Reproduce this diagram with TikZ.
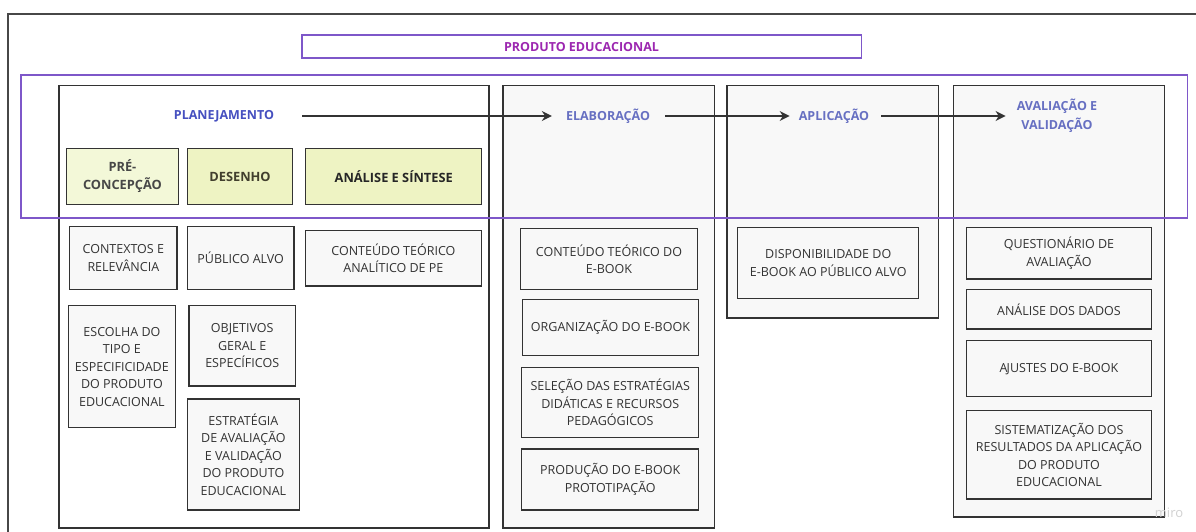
\documentclass[tikz,border=0pt]{standalone}
\usepackage{fontspec}
\setmainfont{Open Sans}
\usepackage{xcolor}
\usetikzlibrary{arrows.meta,positioning}
\definecolor{framegray}{HTML}{333333}
\definecolor{bandpurple}{HTML}{7E57C9}
\definecolor{titlepurple}{HTML}{9C27B0}
\definecolor{planblue}{HTML}{4650C0}
\definecolor{stageblue}{HTML}{6770C2}
\definecolor{colbg}{HTML}{F8F8F8}
\definecolor{prebg}{HTML}{F3F8D8}
\definecolor{phasebg}{HTML}{EEF3C3}

\begin{document}
\begin{tikzpicture}[x=1pt,y=-1pt,
		col/.style={draw=framegray,line width=1.5pt,fill=colbg,anchor=north west,inner sep=0pt},
		item/.style={draw=framegray,line width=1.4pt,fill=colbg,anchor=north west,align=center,
				inner sep=2pt,text=framegray,font=\fontsize{12.5}{17.5}\selectfont},
		phase/.style={draw=framegray,line width=1.4pt,fill=phasebg,anchor=north west,align=center,
				inner sep=2pt,font=\bfseries\fontsize{12.8}{18}\selectfont},
		stage/.style={text=stageblue,align=center,inner sep=0pt,font=\bfseries\fontsize{12.5}{19}\selectfont},
		size/.style 2 args={minimum width=#1pt,minimum height=#2pt},
		flow/.style={draw=framegray,line width=1.6pt,shorten <=12pt,shorten >=11pt,
				-{Stealth[length=10pt,width=10pt]}},
	]
	\useasboundingbox (0,0) rectangle (1196,532);
	\fill[white] (0,0) rectangle (1196,532);
	% outer frame
	\draw[framegray!90,line width=1.5pt] (1196,14) -- (8,14) -- (8,532);
	% title
	\node[draw=bandpurple,line width=1.5pt,anchor=north west,size={559.5}{22.8},inner sep=0pt,
		text=titlepurple,font=\bfseries\fontsize{12.5}{14}\selectfont] (pe) at (301,34.5) {PRODUTO EDUCACIONAL};
	% stage columns
	\node[col,fill=white,size={430}{442}] (plancol) at (58,85) {};
	\node[col,size={211.5}{442}] (elabcol) at (502,85) {};
	\node[col,size={211.5}{232}] (aplcol) at (726,85) {};
	\node[col,size={211}{431}] (avalcol) at (952.5,85) {};
	% stage labels
	\node[stage,text=planblue] (plan) at (224,116) {PLANEJAMENTO};
	\node[stage] (elab) at (608,116) {ELABORAÇÃO};
	\node[stage] (apl) at (834,116) {APLICAÇÃO};
	\node[stage] (aval) at (1057,116) {AVALIAÇÃO E\\VALIDAÇÃO};
	\draw[flow,shorten <=28pt,shorten >=14pt] (plan.east) -- (elab.west);
	\draw[flow,shorten <=15pt,shorten >=9pt] (elab.east) -- (apl.west);
	\draw[flow] (apl.east) -- (aval.west);
	% planejamento phases
	\node[phase,fill=prebg,text=framegray!90,size={111.5}{56.5}] (pre) at (66,147.5) {PRÉ-\\CONCEPÇÃO};
	\node[phase,text=black!50!olive!60!black,size={105.3}{56.5}] (des) at (186.7,147.5) {DESENHO};
	\node[phase,text=black!85,size={176}{56.5}] (ana) at (305,147.5) {ANÁLISE E SÍNTESE};
	% planejamento items
	\node[item,size={107.3}{63}] (ctx) at (69,226) {CONTEXTOS E\\RELEVÂNCIA};
	\node[item,size={106.6}{62.7}] (pub) at (186.7,226) {PÚBLICO ALVO};
	\node[item,size={176}{55.6}] (teo) at (304.7,229.7) {CONTEÚDO TEÓRICO\\ANALÍTICO DE PE};
	\node[item,size={107}{122.3}] (esc) at (67.7,304.7) {ESCOLHA DO\\TIPO E\\ESPECIFICIDADE\\DO PRODUTO\\EDUCACIONAL};
	\node[item,size={106.4}{80.6}] (obj) at (188.3,304.7) {OBJETIVOS\\GERAL E\\ESPECÍFICOS};
	\node[item,size={112}{111}] (est) at (186.7,398.3) {ESTRATÉGIA\\DE AVALIAÇÃO\\E VALIDAÇÃO\\DO PRODUTO\\EDUCACIONAL};
	% elaboracao items
	\node[item,size={177.5}{60.7}] (ebook) at (519.5,228) {CONTEÚDO TEÓRICO DO\\E-BOOK};
	\node[item,size={176.5}{56}] (org) at (521.5,299) {ORGANIZAÇÃO DO E-BOOK};
	\node[item,size={177}{70}] (sel) at (521,366.7) {SELEÇÃO DAS ESTRATÉGIAS\\DIDÁTICAS E RECURSOS\\PEDAGÓGICOS};
	\node[item,size={177}{61}] (prod) at (521,448.3) {PRODUÇÃO DO E-BOOK\\PROTOTIPAÇÃO};
	% aplicacao item
	\node[item,size={181}{71}] (disp) at (737,226.7) {DISPONIBILIDADE DO\\E-BOOK AO PÚBLICO ALVO};
	% avaliacao items
	\node[item,size={184.5}{51.6}] (quest) at (966,226.7) {QUESTIONÁRIO DE\\AVALIAÇÃO};
	\node[item,size={184.5}{39.3}] (dados) at (966,289) {ANÁLISE DOS DADOS};
	\node[item,size={184.5}{56}] (ajus) at (966,340) {A\kern-0.8pt JUSTES DO E-BOOK};
	\node[item,size={184.5}{88.3}] (sist) at (966,410) {SISTEMATIZAÇÃO DOS\\RESULTADOS DA APLICAÇÃO\\DO PRODUTO\\EDUCACIONAL};
	% purple band over the stages
	\draw[bandpurple,line width=1.5pt] (21,75) rectangle (1187.5,218);
	\node[text=black!18,font=\fontsize{13}{13}\selectfont,inner sep=0pt] (miro) at (1169,513) {miro};
\end{tikzpicture}
\end{document}
